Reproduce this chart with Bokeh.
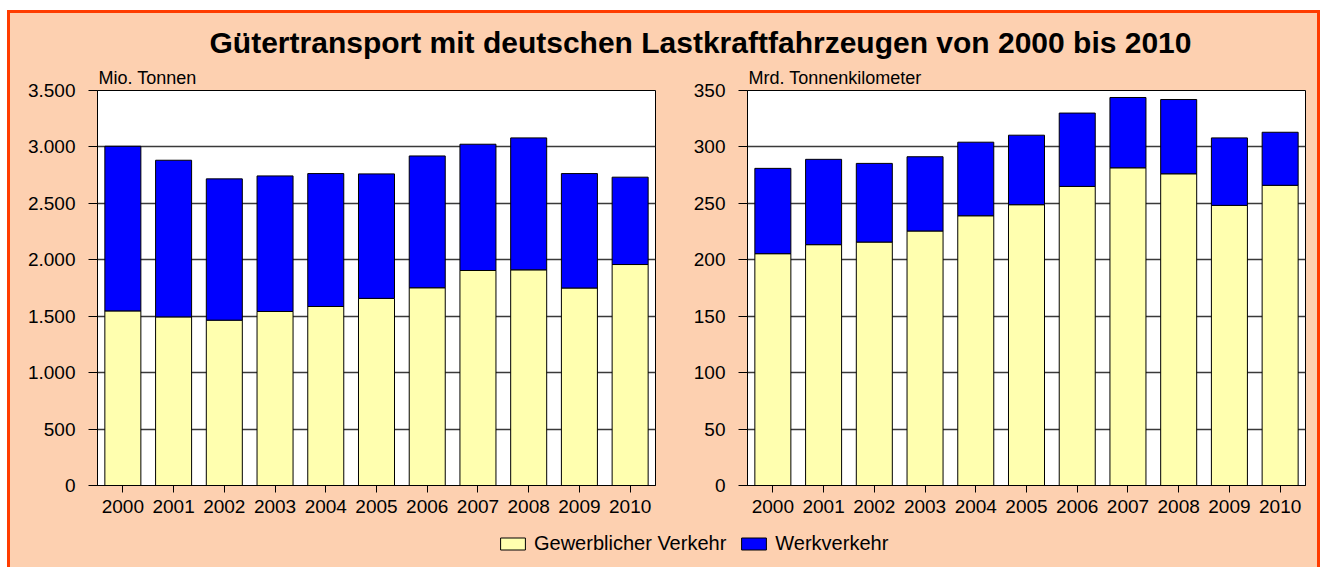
from bokeh.plotting import figure
from bokeh.models import (ColumnDataSource, FactorRange, Range1d, FixedTicker, Title,
                          Legend, LegendItem)
from bokeh.layouts import column, row
from bokeh.embed import file_html
from bokeh.resources import INLINE
from bokeh.core.properties import value

# ---------------- data ----------------
years = ["2000", "2001", "2002", "2003", "2004", "2005", "2006", "2007", "2008", "2009", "2010"]
# Mio. Tonnen
gewerblich_t = [1547, 1494, 1465, 1542, 1586, 1658, 1752, 1905, 1911, 1750, 1958]
werkverkehr_t = [1459, 1388, 1252, 1201, 1178, 1103, 1168, 1119, 1169, 1014, 774]
# Mrd. Tonnenkilometer
gewerblich_tkm = [205.4, 213.4, 215.7, 225.5, 239.0, 248.8, 265.0, 281.5, 276.2, 248.2, 266.0]
werkverkehr_tkm = [75.6, 75.6, 69.7, 65.8, 65.2, 61.6, 65.0, 62.3, 65.8, 59.8, 47.0]

ticks_t = [0, 500, 1000, 1500, 2000, 2500, 3000, 3500]
ticks_tkm = [0, 50, 100, 150, 200, 250, 300, 350]

title_text = "Gütertransport mit deutschen Lastkraftfahrzeugen von 2000 bis 2010"
unit_t = "Mio. Tonnen"
unit_tkm = "Mrd. Tonnenkilometer"
series_names = ["Gewerblicher Verkehr", "Werkverkehr"]

# ---------------- styles ----------------
FONT = "Liberation Sans"
PEACH = "#FDD0B0"
ORANGE = "#FF3C00"
YELLOW = "#FFFFAF"
BLUE = "#0000FF"
TICK_FS = "19px"


def de_fmt(v):
    return f"{v:,}".replace(",", ".")


def make_chart(gew, werk, ticks, unit, width, border_left, border_right):
    src = ColumnDataSource(dict(year=years, gew=gew, werk=werk))
    p = figure(x_range=FactorRange(factors=years), y_range=Range1d(0, ticks[-1]),
               width=width, height=468, output_backend="svg", toolbar_location=None,
               min_border_left=border_left, min_border_right=border_right,
               min_border_top=30, min_border_bottom=43)
    p.title = Title(text=unit, align="left", offset=1, standoff=6,
                    text_font=FONT, text_font_size="18px", text_font_style="normal",
                    text_color="black")
    p.background_fill_color = "white"
    p.border_fill_color = PEACH
    p.outline_line_color = "black"
    p.outline_line_width = 1

    p.vbar_stack(["gew", "werk"], x="year", width=0.71, source=src,
                 fill_color=[YELLOW, BLUE], line_color="black", line_width=1)

    p.xgrid.grid_line_color = None
    p.ygrid.grid_line_color = "#3a3a3a"
    p.ygrid.grid_line_width = 1.3
    p.ygrid.ticker = FixedTicker(ticks=ticks)

    p.yaxis.ticker = FixedTicker(ticks=ticks)
    p.yaxis.major_label_overrides = {t: de_fmt(t) for t in ticks}
    for ax in (p.xaxis[0], p.yaxis[0]):
        ax.axis_line_color = "black"
        ax.major_tick_line_color = "black"
        ax.major_tick_in = 0
        ax.minor_tick_line_color = None
        ax.major_label_text_font = FONT
        ax.major_label_text_font_size = TICK_FS
        ax.major_label_text_color = "black"
    p.yaxis.major_tick_out = 9
    p.yaxis.major_label_standoff = 13
    p.xaxis.major_tick_out = 7
    p.xaxis.major_label_standoff = 7
    return p


left = make_chart(gewerblich_t, werkverkehr_t, ticks_t, unit_t, 650, 87, 5)
right = make_chart(gewerblich_tkm, werkverkehr_tkm, ticks_tkm, unit_tkm, 657, 87, 12)

W = 1307
# title strip
TH = 47
tp = figure(width=W, height=TH, x_range=Range1d(0, W), y_range=Range1d(0, TH),
            output_backend="svg", toolbar_location=None, min_border=0)
tp.axis.visible = False
tp.grid.visible = False
tp.outline_line_color = None
tp.background_fill_color = PEACH
tp.border_fill_color = PEACH
tp.text(x=[690], y=[18.5], text=[title_text], text_font=value(FONT), text_font_size="30px",
        text_font_style="bold", text_align="center", text_baseline="middle",
        text_color="black")

# legend strip
LH = 39
lp = figure(width=W, height=LH, x_range=Range1d(0, W), y_range=Range1d(0, LH),
            output_backend="svg", toolbar_location=None, min_border=0)
lp.axis.visible = False
lp.grid.visible = False
lp.outline_line_color = None
lp.background_fill_color = PEACH
lp.border_fill_color = PEACH
# legend-only renderers, placed outside the visible range
r1 = lp.vbar(x=[-1000], top=[0], width=1, fill_color=YELLOW, line_color="black")
r2 = lp.vbar(x=[-1000], top=[0], width=1, fill_color=BLUE, line_color="black")
legend = Legend(items=[LegendItem(label=series_names[0], renderers=[r1]),
                       LegendItem(label=series_names[1], renderers=[r2])],
                orientation="horizontal", location=(487, 12),
                glyph_width=31, glyph_height=15, label_standoff=6, spacing=12,
                padding=0, margin=0, border_line_color=None, background_fill_alpha=0,
                label_text_font=FONT, label_text_font_size="20px", label_text_color="black",
                label_height=15)
lp.add_layout(legend)

layout = column(tp, row(left, right), lp, margin=(10, 0, 0, 7),
                styles={"border": f"3px solid {ORANGE}", "border-bottom": "none",
                        "background-color": PEACH})

open("out.html", "w").write(file_html(layout, INLINE))
